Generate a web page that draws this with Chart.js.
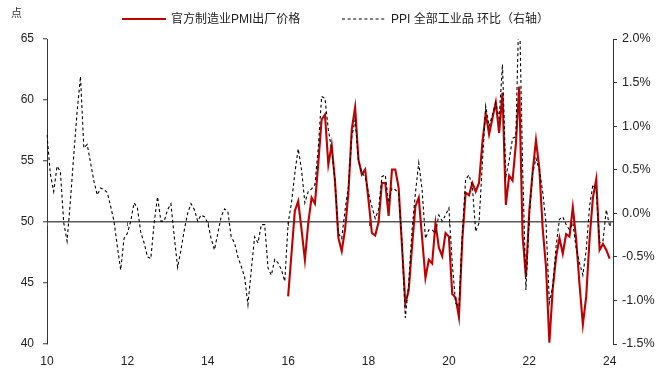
<!DOCTYPE html>
<html>
<head>
<meta charset="utf-8">
<script src="https://cdn.jsdelivr.net/npm/chart.js@4.4.1/dist/chart.umd.min.js"></script>
<style>
  html, body { margin: 0; padding: 0; background: #fff; }
  #wrap { position: relative; width: 670px; height: 380px; font-family: "Liberation Sans", "Noto Sans CJK SC", sans-serif; color: #222; }
  #unit { position: absolute; left: 11px; top: 4px; font-size: 11px; color: #333; }
  .leg { position: absolute; top: 11px; font-size: 12px; line-height: 16px; white-space: nowrap; display: flex; align-items: center; }
  .leg svg { margin-right: 5px; }
</style>
</head>
<body>
<div id="wrap">
  <canvas id="pmiChart" width="670" height="380"></canvas>
  <div id="unit">点</div>
  <div class="leg" style="left:122px"><svg width="44" height="6"><line x1="0" y1="3" x2="44" y2="3" stroke="#c00000" stroke-width="2.2"/></svg>官方制造业PMI出厂价格</div>
  <div class="leg" style="left:342px"><svg width="44" height="6"><line x1="0" y1="3" x2="44" y2="3" stroke="#000" stroke-width="1.1" stroke-dasharray="3,2.6"/></svg>PPI 全部工业品 环比（右轴）</div>
</div>
<script>
// PPI 全部工业品 环比 (%), monthly 2010-01 .. 2024-01
const ppiMom = [
    0.90, 0.45, 0.25, 0.54, 0.48, -0.11, -0.32, 0.15, 0.67, 1.17, 1.57, 0.75,        // 2010
    0.79, 0.58, 0.37, 0.21, 0.29, 0.27, 0.24, 0.08, -0.09, -0.38, -0.65, -0.29,      // 2011
    -0.23, -0.09, 0.12, 0.06, -0.22, -0.34, -0.50, -0.52, -0.11, 0.19, -0.09, -0.09, // 2012
    0.04, 0.11, -0.27, -0.62, -0.42, -0.19, 0.00, 0.11, 0.04, -0.09, -0.02, -0.04,   // 2013
    -0.11, -0.29, -0.42, -0.23, -0.04, 0.05, 0.02, -0.27, -0.34, -0.50, -0.61, -0.73, // 2014
    -1.05, -0.65, -0.27, -0.34, -0.13, -0.13, -0.63, -0.71, -0.53, -0.57, -0.65, -0.78, // 2015
    -0.11, 0.12, 0.46, 0.74, 0.50, 0.12, 0.25, 0.28, 0.33, 0.75, 1.34, 1.32,        // 2016
    0.96, 0.73, 0.37, -0.23, -0.29, 0.04, 0.31, 0.88, 1.07, 0.61, 0.46, 0.42,       // 2017
    0.23, 0.08, -0.06, 0.04, 0.42, 0.44, 0.12, 0.29, 0.27, 0.23, -0.34, -1.20,      // 2018
    -0.80, -0.19, 0.23, 0.58, 0.27, -0.29, -0.19, -0.19, -0.23, -0.02, -0.09, -0.02, // 2019
    0.06, -0.57, -1.03, -1.07, -0.23, 0.39, 0.44, 0.31, -0.21, -0.11, 0.58, 1.23,   // 2020
    1.00, 1.13, 1.27, 1.09, 1.71, 0.42, 0.61, 0.86, 0.88, 2.50, 0.55, -0.88,        // 2021
    -0.04, 0.46, 0.63, 0.50, 0.25, -0.11, -1.03, -0.84, -0.38, -0.07, -0.04, -0.13, // 2022
    -0.19, -0.11, -0.40, -0.57, -0.71, -0.42, 0.08, 0.33, 0.27, -0.34, -0.32, 0.04, // 2023
    -0.15                                                                            // 2024
];

// 官方制造业PMI出厂价格, monthly 2016-01 .. 2024-01
const pmiOutput = [
    43.9, 47.4, 50.9, 51.7, 49.4, 46.9, 49.9, 52.0, 51.5, 54.8, 58.4, 58.8, // 2016
    54.7, 56.3, 53.3, 48.7, 47.6, 49.4, 52.4, 57.6, 59.4, 55.1, 53.9, 54.3, // 2017
    51.8, 49.1, 48.9, 50.0, 53.2, 53.2, 50.5, 54.3, 54.3, 52.8, 48.0, 43.3, // 2018
    44.4, 48.0, 51.3, 52.0, 48.7, 45.4, 46.9, 46.6, 49.9, 47.9, 47.2, 49.1, // 2019
    48.8, 44.1, 43.8, 42.2, 48.5, 52.4, 52.2, 53.2, 52.5, 53.2, 56.5, 58.9, // 2020
    57.2, 58.5, 59.8, 57.3, 60.6, 51.4, 53.8, 53.4, 56.4, 61.1, 48.9, 45.5, // 2021
    50.9, 54.1, 56.7, 54.4, 49.5, 46.3, 40.1, 44.5, 47.1, 48.7, 47.4, 49.0, // 2022
    48.8, 51.2, 48.6, 44.9, 41.6, 43.9, 48.6, 52.0, 53.5, 47.7, 48.2, 47.7, // 2023
    47.0                                                                    // 2024
];

// x categories: every month 2010-01 .. 2024-02
const months = [];
for (let y = 2010; y <= 2024; y++) {
    for (let m = 1; m <= 12; m++) {
        if (y === 2024 && m > 2) break;
        months.push(y + '-' + String(m).padStart(2, '0'));
    }
}
const tickYears = ['10', '12', '14', '16', '18', '20', '22', '24'];

const pmiStart = months.indexOf('2016-01');
const pmiData = new Array(pmiStart).fill(null).concat(pmiOutput);

function isTickMonth(label) {
    return label.endsWith('-01') && tickYears.includes(label.slice(2, 4));
}

const FONT = '"Liberation Sans", Arial, "Noto Sans CJK SC", sans-serif';

// little tick marks hanging under the 50 line, like the excel category axis
const axisTicks = {
    id: 'axisTicks',
    beforeDatasetsDraw(chart) {
        const x = chart.scales.x;
        const y = chart.scales.y;
        const y50 = y.getPixelForValue(50);
        const ctx = chart.ctx;
        ctx.save();
        ctx.strokeStyle = '#595959';
        ctx.lineWidth = 1;
        months.forEach((m, i) => {
            if (!isTickMonth(m)) return;
            const px = Math.round(x.getPixelForValue(i)) + 0.5;
            ctx.beginPath();
            ctx.moveTo(px, y50);
            ctx.lineTo(px, y50 + 4);
            ctx.stroke();
        });
        ctx.restore();
    }
};

new Chart(document.getElementById('pmiChart').getContext('2d'), {
    type: 'line',
    data: {
        labels: months,
        datasets: [
            {
                label: '官方制造业PMI出厂价格',
                data: pmiData,
                borderColor: '#c00000',
                borderWidth: 2.1,
                pointRadius: 0,
                fill: false,
                yAxisID: 'y',
                order: 1
            },
            {
                label: 'PPI 全部工业品 环比（右轴）',
                data: ppiMom,
                borderColor: '#000000',
                borderWidth: 1.1,
                borderDash: [3, 2.6],
                pointRadius: 0,
                fill: false,
                yAxisID: 'y1',
                order: 0
            }
        ]
    },
    options: {
        responsive: false,
        animation: false,
        devicePixelRatio: 1,
        layout: { padding: { top: 39, left: 0, right: 0, bottom: 0 } },
        plugins: {
            legend: { display: false },
            tooltip: { enabled: false }
        },
        scales: {
            x: {
                type: 'category',
                offset: false,
                grid: { display: false },
                border: { display: false },
                ticks: {
                    autoSkip: false,
                    maxRotation: 0,
                    minRotation: 0,
                    padding: 2,
                    color: '#222',
                    font: { family: FONT, size: 12 },
                    callback: function (value) {
                        const lab = this.getLabelForValue(value);
                        return isTickMonth(lab) ? lab.slice(2, 4) : null;
                    }
                },
                afterFit(scale) { scale.height = 36; }
            },
            y: {
                position: 'left',
                min: 40,
                max: 65,
                ticks: {
                    stepSize: 5,
                    padding: 9,
                    color: '#222',
                    font: { family: FONT, size: 12 }
                },
                grid: {
                    drawOnChartArea: true,
                    color: ctx => (ctx.tick && ctx.tick.value === 50) ? '#595959' : 'rgba(0,0,0,0)',
                    lineWidth: 1.5,
                    tickColor: '#333',
                    tickWidth: 1,
                    tickLength: 4
                },
                border: { display: true, color: '#333', width: 1 },
                afterFit(scale) { scale.width = 47; }
            },
            y1: {
                position: 'right',
                min: -1.5,
                max: 2.0,
                ticks: {
                    stepSize: 0.5,
                    padding: 5,
                    color: '#222',
                    font: { family: FONT, size: 12.5 },
                    callback: v => v.toFixed(1) + '%'
                },
                grid: {
                    drawOnChartArea: false,
                    tickColor: '#333',
                    tickLength: 4
                },
                border: { display: true, color: '#333', width: 1 },
                afterFit(scale) { scale.width = 57; }
            }
        }
    },
    plugins: [axisTicks]
});
</script>
</body>
</html>
